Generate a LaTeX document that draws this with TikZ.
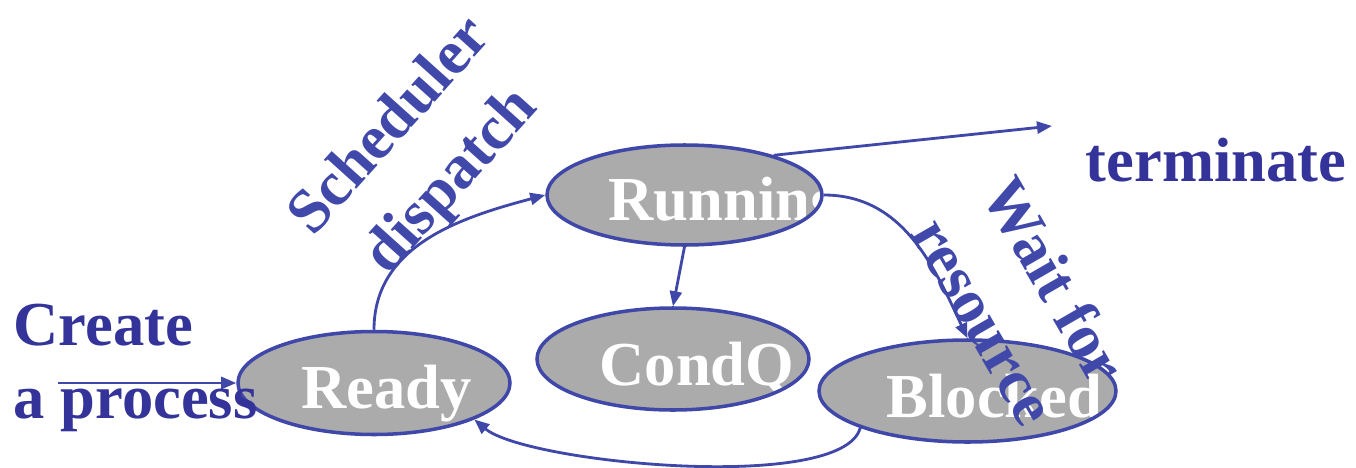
\documentclass[tikz,border=0pt]{standalone}
\usepackage{fontspec}
\setmainfont{Liberation Serif}
\usetikzlibrary{arrows.meta, shapes.geometric, positioning}

\definecolor{txtblue}{HTML}{333399}
\definecolor{rotblue}{HTML}{4048AA}
\definecolor{edgeblue}{HTML}{3F47A8}
\definecolor{procgray}{HTML}{ABABAB}

\begin{document}
\begin{tikzpicture}[
    font=\fontsize{17.8}{20.7}\selectfont\bfseries,
    proc/.style n args={3}{
        ellipse,
        draw=edgeblue,
        line width=1pt,
        fill=procgray,
        minimum width=2.72cm,
        minimum height=1.03cm,
        inner sep=0pt,
        path picture={
            \node[
                rectangle,
                draw=none,
                fill=none,
                minimum size=0pt,
                text=white,
                inner sep=0pt,
                anchor=base west
            ] at ([shift={(#2,#3)}]path picture bounding box.center) {#1};
        }
    },
    flow/.style={
        -{Triangle[length=1.5mm, width=1.2mm]},
        edgeblue,
        line width=0.8pt
    },
    lbl/.style={
        txtblue,
        inner sep=0pt
    },
    rotlbl/.style={
        rotblue,
        inner sep=0pt,
        align=center,
        font=\fontsize{17.8}{23.3}\selectfont\bfseries
    }
]

\useasboundingbox (0,0) rectangle (13.56,4.67);

% Process states
\node[proc={Ready}{-0.74}{-0.25}] (ready) at (3.74,0.84) {};
\node[
    proc={Running}{-0.775}{-0.25},
    minimum width=2.75cm,
    minimum height=1.0cm
] (running) at (6.845,2.72) {};
\node[
    proc={CondQ}{-0.75}{-0.26},
    minimum height=1.02cm
] (condq) at (6.73,1.08) {};
\node[
    proc={Blocked}{-0.825}{-0.26},
    minimum width=2.97cm,
    minimum height=1.02cm
] (blocked) at (9.675,0.76) {};

% Loose ends
\coordinate (newproc) at (0.58,0.84);
\coordinate (termend) at (10.52,3.41);

% Transitions
\draw[flow] (newproc) -- (ready.west);
\draw[flow] (ready.north) to[out=90, in=195] (running.west);
\draw[flow] (running.24) -- (termend);
\draw[flow] (running.south) -- (condq.north);
\draw[flow] (running.east) to[out=0, in=115] (blocked.north);
\draw[flow] (blocked.199) to[out=255, in=-40, looseness=0.45] (ready.340);

% Labels
\node[lbl, align=left, anchor=base west] (create) at (0.13,0.49) {Create\\a process};
\node[lbl, anchor=base west] (term) at (10.85,2.86) {terminate};
\node[rotlbl, rotate=48] (sched) at (4.22,3.12) {Scheduler\\dispatch};
\node[rotlbl, rotate=-60] (wait) at (10.20,1.67) {Wait for\\resource};

\end{tikzpicture}
\end{document}
